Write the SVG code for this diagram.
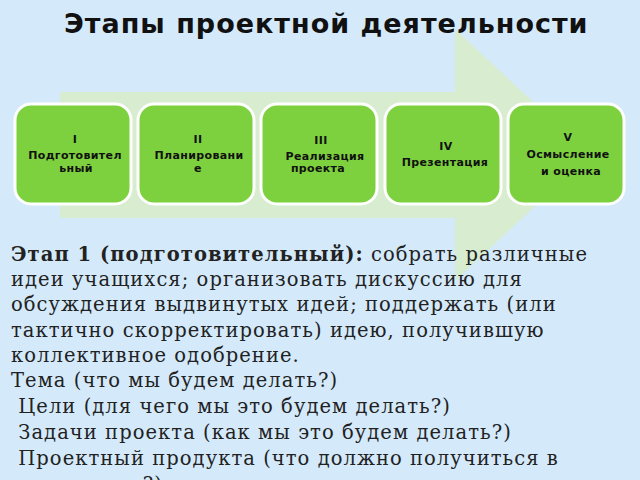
<svg xmlns="http://www.w3.org/2000/svg" width="640" height="480" viewBox="0 0 640 480">
<style>
.box{fill:#7ed13e;stroke:#ffffff;stroke-width:3}
.bt{font-family:"DejaVu Sans",sans-serif;font-weight:bold;font-size:11px;fill:#111;text-anchor:middle;letter-spacing:0.35px}
.title{font-family:"DejaVu Sans",sans-serif;font-weight:bold;font-size:27px;fill:#111;letter-spacing:1px}
.body{font-family:"DejaVu Serif",serif;font-size:19.5px;fill:#222;letter-spacing:1.05px}
</style>
<rect x="0" y="0" width="640" height="480" fill="#d4eafb"/>
<g id="arrow">
<polygon points="60,92 455,92 455,29 590,155 455,281 455,218 60,218" fill="#d8ecd0"/>
</g>
<g id="title"><text class="title" x="64" y="33">Этапы проектной деятельности</text></g>
<g id="connectors"></g>
<g id="n1"><rect class="box" x="15" y="104" width="116" height="100" rx="16"/>
<text class="bt" x="75" y="143">I</text><text class="bt" x="75" y="159">Подготовител</text><text class="bt" x="76" y="172">ьный</text></g>
<g id="n2"><rect class="box" x="138" y="104" width="116" height="100" rx="16"/>
<text class="bt" x="198" y="143">II</text><text class="bt" x="199" y="159">Планировани</text><text class="bt" x="198" y="172">е</text></g>
<g id="n3"><rect class="box" x="261" y="104" width="116" height="100" rx="16"/>
<text class="bt" x="321" y="144">III</text><text class="bt" x="325" y="160">Реализация</text><text class="bt" x="318" y="172">проекта</text></g>
<g id="n4"><rect class="box" x="385" y="104" width="116" height="100" rx="16"/>
<text class="bt" x="446" y="150">IV</text><text class="bt" x="445" y="166">Презентация</text></g>
<g id="n5"><rect class="box" x="508" y="104" width="116" height="100" rx="16"/>
<text class="bt" x="568" y="141">V</text><text class="bt" x="568" y="158">Осмысление</text><text class="bt" x="571" y="175">и оценка</text></g>
<g id="text" class="body">
<text x="11" y="261"><tspan font-weight="bold">Этап 1 (подготовительный):</tspan> собрать различные</text>
<text x="11" y="286">идеи учащихся; организовать дискуссию для</text>
<text x="11" y="311">обсуждения выдвинутых идей; поддержать (или</text>
<text x="11" y="337">тактично скорректировать) идею, получившую</text>
<text x="11" y="362">коллективное одобрение.</text>
<text x="11" y="387">Тема (что мы будем делать?)</text>
<text x="11" y="413" xml:space="preserve"> Цели (для чего мы это будем делать?)</text>
<text x="11" y="439" xml:space="preserve"> Задачи проекта (как мы это будем делать?)</text>
<text x="11" y="465" xml:space="preserve"> Проектный продукта (что должно получиться в</text>
<text x="11" y="491" xml:space="preserve"> результате?)</text>
</g>
</svg>
